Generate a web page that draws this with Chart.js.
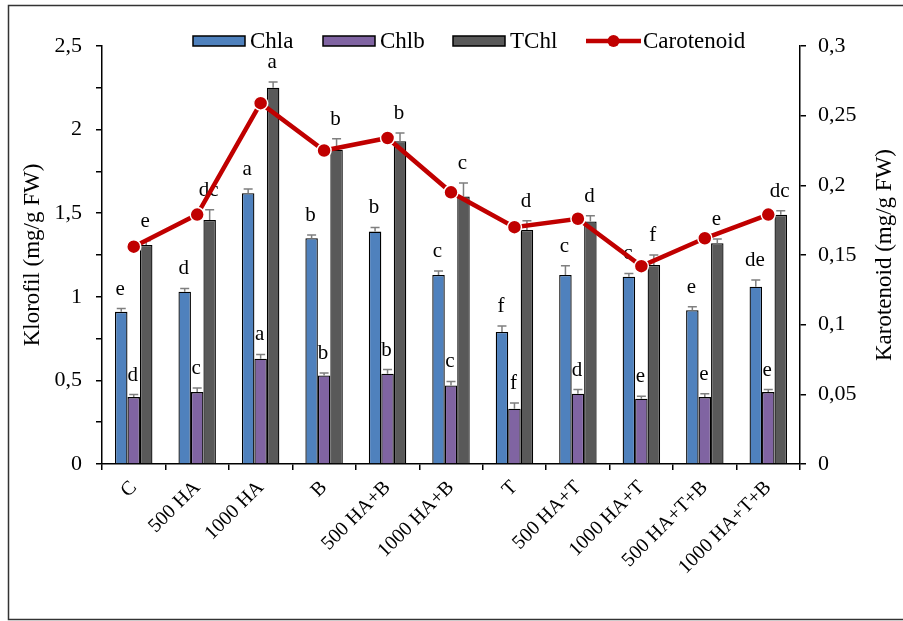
<!DOCTYPE html>
<html>
<head>
<meta charset="utf-8">
<script src="https://cdn.jsdelivr.net/npm/chart.js@4/dist/chart.umd.min.js"></script>
<style>
  body { margin: 0; background: #fff; }
  canvas { display: block; }
</style>
</head>
<body>
<canvas id="pigChart" width="903" height="621"></canvas>
<script>
(() => {
  const categories = ['C', '500 HA', '1000 HA', 'B', '500 HA+B', '1000 HA+B', 'T', '500 HA+T', '1000 HA+T', '500 HA+T+B', '1000 HA+T+B'];
  const chla = [0.91, 1.03, 1.62, 1.35, 1.39, 1.13, 0.79, 1.13, 1.12, 0.92, 1.06];
  const chlaErr = [0.02, 0.02, 0.025, 0.02, 0.025, 0.025, 0.035, 0.055, 0.02, 0.02, 0.04];
  const chlb = [0.40, 0.43, 0.63, 0.53, 0.54, 0.47, 0.33, 0.42, 0.39, 0.40, 0.43];
  const chlbErr = [0.015, 0.025, 0.025, 0.015, 0.025, 0.024, 0.035, 0.025, 0.015, 0.02, 0.015];
  const tchl = [1.31, 1.46, 2.25, 1.88, 1.93, 1.60, 1.40, 1.45, 1.19, 1.32, 1.49];
  const tchlErr = [0.025, 0.06, 0.035, 0.065, 0.05, 0.08, 0.055, 0.035, 0.06, 0.025, 0.025];
  const carotenoid = [0.156, 0.179, 0.259, 0.225, 0.234, 0.195, 0.170, 0.176, 0.142, 0.162, 0.179];

  const chlaLetters = ['e', 'd', 'a', 'b', 'b', 'c', 'f', 'c', 'c', 'e', 'de'];
  const chlbLetters = ['d', 'c', 'a', 'b', 'b', 'c', 'f', 'd', 'e', 'e', 'e'];
  const tchlLetters = ['e', 'dc', 'a', 'b', 'b', 'c', 'd', 'd', 'f', 'e', 'dc'];

  const FONT = '"Liberation Serif", "Times New Roman", serif';
  const fmt = v => parseFloat(v.toFixed(2)).toString().replace('.', ',');

  const errs = [chlaErr, chlbErr, tchlErr];
  const letters = [chlaLetters, chlbLetters, tchlLetters];

  // error bars + significance letters, drawn right after each bar dataset
  const barExtras = {
    id: 'barExtras',
    afterDatasetDraw(chart, args) {
      const i = args.index;
      if (i > 2) return;
      const { ctx } = chart;
      const y = chart.scales.y;
      const meta = args.meta;
      ctx.save();
      meta.data.forEach((bar, j) => {
        const v = chart.data.datasets[i].data[j];
        const top = y.getPixelForValue(v + errs[i][j]);
        ctx.strokeStyle = '#7f7f7f';
        ctx.lineWidth = 1.5;
        ctx.beginPath();
        ctx.moveTo(bar.x, bar.y);
        ctx.lineTo(bar.x, top);
        ctx.moveTo(bar.x - 4.5, top);
        ctx.lineTo(bar.x + 4.5, top);
        ctx.stroke();
        ctx.fillStyle = '#000';
        ctx.font = '21px ' + FONT;
        ctx.textAlign = 'center';
        ctx.textBaseline = 'alphabetic';
        ctx.fillText(letters[i][j], bar.x - 1, top - 14);
      });
      ctx.restore();
    }
  };

  // frame, axis titles, legend
  const decor = {
    id: 'decor',
    afterDraw(chart) {
      const { ctx } = chart;
      ctx.save();
      ctx.strokeStyle = '#333';
      ctx.lineWidth = 1.5;
      ctx.strokeRect(8.5, 5.5, 900, 614);

      ctx.fillStyle = '#000';
      ctx.font = '23px ' + FONT;
      ctx.textAlign = 'center';
      ctx.textBaseline = 'middle';
      [[33, 'Klorofil (mg/g FW)'], [885, 'Karotenoid (mg/g FW)']].forEach(([x, t]) => {
        ctx.save();
        ctx.translate(x, 255);
        ctx.rotate(-Math.PI / 2);
        ctx.fillText(t, 0, 0);
        ctx.restore();
      });

      const ds = chart.data.datasets;
      const ly = 41;
      ctx.textAlign = 'left';
      [193, 323, 453].forEach((x, k) => {
        ctx.fillStyle = ds[k].backgroundColor;
        ctx.fillRect(x, ly - 5, 52, 10);
        ctx.strokeStyle = '#000';
        ctx.lineWidth = 1.5;
        ctx.strokeRect(x, ly - 5, 52, 10);
        ctx.fillStyle = '#000';
        ctx.fillText(ds[k].label, x + 57, ly + 1);
      });
      ctx.strokeStyle = ds[3].borderColor;
      ctx.lineWidth = 4.5;
      ctx.beginPath();
      ctx.moveTo(586, ly);
      ctx.lineTo(641, ly);
      ctx.stroke();
      ctx.fillStyle = ds[3].borderColor;
      ctx.beginPath();
      ctx.arc(613.5, ly, 6, 0, Math.PI * 2);
      ctx.fill();
      ctx.fillStyle = '#000';
      ctx.fillText(ds[3].label, 643, ly + 1);
      ctx.restore();
    }
  };

  const axisFont = { family: FONT, size: 22 };

  new Chart(document.getElementById('pigChart').getContext('2d'), {
    data: {
      labels: categories,
      datasets: [
        { type: 'bar', label: 'Chla', data: chla, backgroundColor: '#4f81bd', borderColor: '#000', borderWidth: 1.3, yAxisID: 'y', order: 2 },
        { type: 'bar', label: 'Chlb', data: chlb, backgroundColor: '#8064a2', borderColor: '#000', borderWidth: 1.3, yAxisID: 'y', order: 2 },
        { type: 'bar', label: 'TChl', data: tchl, backgroundColor: '#595959', borderColor: '#000', borderWidth: 1.3, yAxisID: 'y', order: 2 },
        {
          type: 'line', label: 'Carotenoid', data: carotenoid, yAxisID: 'y1', order: 0,
          borderColor: '#c00000', backgroundColor: '#c00000', borderWidth: 4.5, tension: 0,
          pointRadius: 7, pointBackgroundColor: '#c00000', pointBorderColor: '#fff', pointBorderWidth: 1.5
        }
      ]
    },
    options: {
      responsive: false,
      animation: false,
      datasets: { bar: { categoryPercentage: 0.59, barPercentage: 1 } },
      layout: { padding: { top: 46, left: 0, right: 0, bottom: 0 } },
      plugins: { legend: { display: false }, tooltip: { enabled: false } },
      scales: {
        x: {
          afterFit: s => { s.height = 157; },
          grid: { display: true, offset: true, drawOnChartArea: false, drawTicks: true, tickLength: 6, color: '#000', lineWidth: 1.5 },
          border: { display: true, color: '#000', width: 1.5 },
          ticks: { color: '#000', font: { family: FONT, size: 20 }, minRotation: 45, maxRotation: 45, autoSkip: false, padding: 6 }
        },
        y: {
          position: 'left', min: 0, max: 2.5,
          afterFit: s => { s.width = 102; },
          grid: { drawOnChartArea: false, drawTicks: true, tickLength: 6, color: '#000', lineWidth: 1.5 },
          border: { display: true, color: '#000', width: 1.5 },
          ticks: {
            stepSize: 0.25, color: '#000', font: axisFont, padding: 14,
            callback: v => (Math.abs(v * 2 - Math.round(v * 2)) < 1e-6 ? fmt(v) : '')
          }
        },
        y1: {
          position: 'right', min: 0, max: 0.3,
          afterFit: s => { s.width = 103; },
          grid: { drawOnChartArea: false, drawTicks: true, tickLength: 6, color: '#000', lineWidth: 1.5 },
          border: { display: true, color: '#000', width: 1.5 },
          ticks: { stepSize: 0.05, color: '#000', font: axisFont, padding: 12, callback: v => fmt(v) }
        }
      }
    },
    plugins: [barExtras, decor]
  });
})();
</script>
</body>
</html>
